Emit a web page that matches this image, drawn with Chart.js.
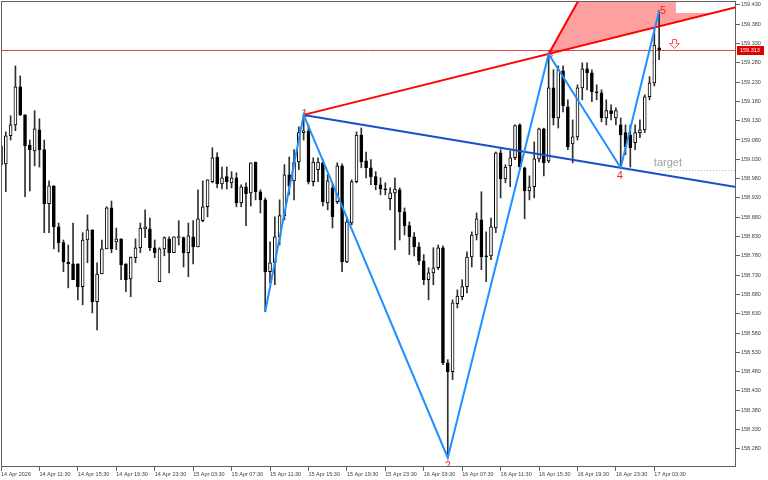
<!DOCTYPE html>
<html><head><meta charset="utf-8">
<script src="https://cdn.jsdelivr.net/npm/chart.js@4/dist/chart.umd.min.js"></script>
<style>html,body{margin:0;padding:0;background:#fff}#wrap{width:768px;height:480px}</style>
</head><body><div id="wrap"><canvas id="c" width="768" height="480"></canvas></div>
<script>
// ---- data ----
const timeLabels = ['14 Apr 2026','14 Apr 11:30','14 Apr 15:30','14 Apr 19:30','14 Apr 23:30','15 Apr 03:30','15 Apr 07:30','15 Apr 11:30','15 Apr 15:30','15 Apr 19:30','15 Apr 23:30','16 Apr 03:30','16 Apr 07:30','16 Apr 11:30','16 Apr 15:30','16 Apr 19:30','16 Apr 23:30','17 Apr 03:30'];
const barsPerLabel = 8;
const slotCount = 154;
const opens = [159.065,159.018,159.091,159.119,159.218,159.145,159.067,159.052,159.106,159.055,
158.915,158.961,158.855,158.814,158.764,158.759,158.759,158.700,158.821,158.847,
158.661,158.733,158.798,158.904,158.816,158.824,158.759,158.720,158.775,158.801,
158.850,158.850,158.801,158.713,158.798,158.824,158.788,158.827,158.827,158.788,
158.829,158.803,158.871,158.907,158.972,159.036,158.966,158.985,158.969,158.982,
158.917,158.959,158.943,159.023,158.946,158.925,158.739,158.762,158.829,158.884,
158.990,158.974,159.023,159.099,159.104,158.972,159.003,159.021,158.917,158.956,
158.920,159.013,158.764,158.865,158.972,159.093,159.026,159.008,158.985,158.964,
158.953,158.928,158.943,158.951,158.894,158.858,158.829,158.803,158.767,158.718,
158.736,158.749,158.801,158.503,158.480,158.656,158.674,158.700,158.777,158.834,
158.873,158.780,158.780,158.852,159.047,158.979,159.013,159.034,159.119,159.008,
158.948,158.959,159.031,159.109,159.026,159.215,159.137,159.259,159.166,159.070,
159.088,159.215,159.264,159.254,159.205,159.202,159.137,159.156,159.137,159.119,
159.099,159.093,159.073,159.099,159.106,159.192,159.228,159.319];
const highs = [159.080,159.101,159.143,159.272,159.246,159.145,159.080,159.156,159.135,159.080,
158.974,158.961,158.865,158.821,158.808,158.865,158.759,158.840,158.886,158.847,
158.762,158.821,158.907,158.922,158.852,158.824,158.759,158.777,158.824,158.865,
158.899,158.878,158.821,158.801,158.829,158.829,158.829,158.871,158.829,158.865,
158.871,158.951,158.974,158.977,159.060,159.047,159.010,159.010,158.998,158.995,
158.964,158.969,159.021,159.023,158.951,158.930,158.816,158.881,158.925,159.016,
159.036,159.055,159.114,159.145,159.119,159.034,159.034,159.029,158.990,158.966,
159.021,159.018,158.878,158.977,159.101,159.111,159.049,159.029,158.998,158.982,
158.969,158.956,158.982,158.956,158.904,158.868,158.840,158.814,158.783,158.749,
158.801,158.808,158.806,158.511,158.666,158.692,158.718,158.790,158.842,158.891,
158.946,158.842,158.878,159.049,159.055,159.016,159.052,159.119,159.122,159.010,
158.987,159.075,159.111,159.111,159.303,159.262,159.272,159.272,159.184,159.132,
159.223,159.280,159.280,159.262,159.223,159.210,159.184,159.171,159.163,159.137,
159.119,159.119,159.119,159.132,159.197,159.244,159.370,159.415];
const lows = [159.008,158.946,159.080,159.104,159.143,158.933,158.948,159.013,159.010,158.840,
158.840,158.798,158.790,158.739,158.697,158.718,158.666,158.653,158.762,158.632,
158.588,158.733,158.798,158.788,158.796,158.718,158.687,158.674,158.762,158.788,
158.827,158.793,158.775,158.713,158.780,158.736,158.788,158.808,158.751,158.726,
158.759,158.803,158.868,158.881,158.969,158.956,158.953,158.953,158.956,158.907,
158.907,158.858,158.909,158.925,158.891,158.635,158.710,158.705,158.808,158.873,
158.938,158.925,159.003,159.080,158.966,158.961,158.972,158.909,158.899,158.852,
158.915,158.739,158.762,158.860,158.969,159.008,158.982,158.964,158.951,158.938,
158.938,158.899,158.796,158.821,158.834,158.783,158.780,158.757,158.705,158.666,
158.705,158.744,158.498,158.257,158.459,158.645,158.666,158.684,158.751,158.821,
158.744,158.713,158.770,158.840,158.930,158.969,158.959,159.029,159.003,158.876,
158.925,158.930,159.023,158.987,159.021,159.119,159.111,159.153,159.055,159.021,
159.080,159.184,159.210,159.179,159.184,159.127,159.119,159.132,159.119,159.008,
159.042,159.010,159.055,159.086,159.099,159.184,159.220,159.288];
const closes = [159.016,159.091,159.119,159.218,159.145,159.065,159.055,159.109,159.055,158.915,
158.961,158.855,158.814,158.764,158.759,158.718,158.700,158.821,158.847,158.661,
158.733,158.798,158.904,158.798,158.824,158.757,158.718,158.777,158.801,158.852,
158.855,158.801,158.788,158.798,158.827,158.788,158.829,158.829,158.788,158.832,
158.803,158.876,158.907,158.977,159.034,158.966,158.982,158.972,158.982,158.917,
158.959,158.941,159.021,158.946,158.925,158.739,158.762,158.829,158.884,158.990,
158.961,159.023,159.099,159.104,158.972,159.023,159.023,158.920,158.974,158.881,
159.013,158.764,158.868,158.972,159.093,159.023,159.008,158.985,158.964,158.953,
158.951,158.943,158.953,158.894,158.858,158.829,158.803,158.767,158.718,158.736,
158.749,158.801,158.503,158.480,158.658,158.676,158.700,158.777,158.834,158.876,
158.777,158.777,158.855,159.047,158.979,159.010,159.034,159.117,159.010,158.948,
158.959,159.031,159.109,159.021,159.215,159.137,159.262,159.168,159.062,159.088,
159.215,159.264,159.254,159.205,159.202,159.137,159.156,159.148,159.156,159.093,
159.062,159.060,159.099,159.106,159.192,159.228,159.326,159.313];
const yTickValues = [158.280,158.330,158.380,158.430,158.480,158.530,158.580,158.630,158.680,158.730,158.780,158.830,158.880,158.930,158.980,159.030,159.080,159.130,159.180,159.230,159.280,159.330,159.380,159.430];
const yMin = 158.233, yMax = 159.440;
const lastPrice = 159.313;
const waveIdx = [55,63,93,114,129,137];
const wavePrice = [158.635,159.145,158.257,159.303,159.008,159.415];
const waveNames = ['','1','2','3','4','5'];
const upperLineIdx = [63,153], upperLinePrice = [159.145,159.424];
const lowerLineIdx = [63,153], lowerLinePrice = [159.145,158.958];
const steepLineIdx = [114,121], steepLinePrice = [159.303,159.459];
const zoneIdx = [114,121,153,153], zonePrice = [159.303,159.459,159.459,159.424];
const boxIdx = [140.5,153], boxPrice = [159.409,159.445];
const targetIdx = [137,153], targetPrice = 159.003, targetText = 'target', targetTextIdx = 135.9;
const arrowIdx = 140.1, arrowPrice = 159.332;

// ---- build ----
const categories = Array.from({length: slotCount}, (_, i) => i);
const bodies = opens.map((o, i) => [o, closes[i]]);
const wicks = lows.map((l, i) => [l, highs[i]]);
const bodyColors = opens.map((o, i) => closes[i] > o ? '#ffffff' : '#000000');
function sparse(idx, vals) {
  const arr = new Array(slotCount).fill(null);
  idx.forEach((ix, k) => { arr[ix] = vals[k]; });
  return arr;
}
const FONT = "'Liberation Sans', Arial, sans-serif";
Chart.defaults.font.family = FONT;

const P = (chart, ix, pr) => [chart.scales.x.getPixelForValue(ix), chart.scales.y.getPixelForValue(pr)];
const labelOffsets = [[0,0],[1,-1],[0,8],[1.5,1],[-1,8],[4,0]];

const overlay = {
  id: 'overlay',
  beforeDatasetsDraw(chart) {
    const {ctx, chartArea: a} = chart;
    ctx.save();
    ctx.beginPath(); ctx.rect(a.left, a.top, a.right - a.left, a.bottom - a.top); ctx.clip();
    ctx.beginPath();
    zoneIdx.forEach((ix, k) => { const [px, py] = P(chart, ix, zonePrice[k]); k ? ctx.lineTo(px, py) : ctx.moveTo(px, py); });
    ctx.closePath(); ctx.fillStyle = '#ffa0a0'; ctx.fill();
    const [bx0, by0] = P(chart, boxIdx[0], boxPrice[1]);
    const [bx1, by1] = P(chart, boxIdx[1], boxPrice[0]);
    ctx.fillStyle = '#ffffff'; ctx.fillRect(bx0, by0, bx1 - bx0, by1 - by0);
    const yl = Math.round(chart.scales.y.getPixelForValue(lastPrice)) + 0.5;
    ctx.strokeStyle = '#e04848'; ctx.lineWidth = 1;
    ctx.beginPath(); ctx.moveTo(a.left, yl); ctx.lineTo(a.right, yl); ctx.stroke();
    const [tx0, ty] = P(chart, targetIdx[0], targetPrice);
    const [tx1] = P(chart, targetIdx[1], targetPrice);
    ctx.strokeStyle = '#b0b0b0'; ctx.setLineDash([1, 2]);
    ctx.beginPath(); ctx.moveTo(tx0, Math.round(ty) + 0.5); ctx.lineTo(tx1, Math.round(ty) + 0.5); ctx.stroke();
    ctx.setLineDash([]);
    // wave numbers (drawn beneath the pattern lines)
    ctx.font = '11px ' + FONT; ctx.fillStyle = '#ff2020'; ctx.textAlign = 'center'; ctx.textBaseline = 'middle';
    waveIdx.forEach((ix, k) => {
      if (!waveNames[k]) return;
      const [px, py] = P(chart, ix, wavePrice[k]);
      ctx.fillText(waveNames[k], px + labelOffsets[k][0], py + labelOffsets[k][1]);
    });
    ctx.restore();
  },
  afterDatasetsDraw(chart) {
    const {ctx, chartArea: a} = chart;
    ctx.save();
    ctx.beginPath(); ctx.rect(a.left, a.top, a.right - a.left, a.bottom - a.top); ctx.clip();
    const [ttx, tty] = P(chart, targetTextIdx, targetPrice);
    ctx.font = '11px ' + FONT; ctx.fillStyle = '#a0a0a0'; ctx.textAlign = 'left'; ctx.textBaseline = 'middle';
    ctx.fillText(targetText, ttx, tty - 7);
    const [ax, ay0] = P(chart, arrowIdx, arrowPrice);
    const cx = Math.round(ax) + 0.5, top = Math.round(ay0) - 4 + 0.5;
    ctx.strokeStyle = '#ff5a5a'; ctx.lineWidth = 1;
    ctx.beginPath();
    ctx.moveTo(cx - 2, top); ctx.lineTo(cx + 2, top); ctx.lineTo(cx + 2, top + 4);
    ctx.lineTo(cx + 5, top + 4); ctx.lineTo(cx, top + 9); ctx.lineTo(cx - 5, top + 4);
    ctx.lineTo(cx - 2, top + 4); ctx.closePath(); ctx.stroke();
    ctx.restore();
  },
  afterDraw(chart) {
    const {ctx, chartArea: a} = chart;
    ctx.save();
    ctx.strokeStyle = '#606060'; ctx.lineWidth = 1;
    ctx.strokeRect(Math.floor(a.left) + 0.5, Math.floor(a.top) + 0.5, Math.round(a.right - a.left) - 1, Math.round(a.bottom - a.top) - 1);
    const yl = Math.round(chart.scales.y.getPixelForValue(lastPrice));
    ctx.fillStyle = '#e00000';
    ctx.fillRect(Math.round(a.right) + 1, yl - 4, 27, 9);
    ctx.fillStyle = '#ffffff'; ctx.font = '5.5px ' + FONT; ctx.textAlign = 'left'; ctx.textBaseline = 'middle';
    ctx.fillText(lastPrice.toFixed(3), Math.round(a.right) + 4, yl + 0.5);
    ctx.restore();
  }
};

new Chart(document.getElementById('c'), {
  type: 'bar',
  data: {
    labels: categories,
    datasets: [
      { type: 'line', data: sparse(waveIdx, wavePrice), borderColor: '#1e90ff', borderWidth: 2, pointRadius: 0, spanGaps: true, tension: 0, fill: false, order: 1, clip: 0 },
      { type: 'line', data: sparse(upperLineIdx, upperLinePrice), borderColor: '#ff0000', borderWidth: 2, pointRadius: 0, spanGaps: true, tension: 0, fill: false, order: 2, clip: 0 },
      { type: 'line', data: sparse(steepLineIdx, steepLinePrice), borderColor: '#ff0000', borderWidth: 2, pointRadius: 0, spanGaps: true, tension: 0, fill: false, order: 2, clip: 0 },
      { type: 'line', data: sparse(lowerLineIdx, lowerLinePrice), borderColor: '#1450c8', borderWidth: 2, pointRadius: 0, spanGaps: true, tension: 0, fill: false, order: 3, clip: 0 },
      { data: bodies, backgroundColor: bodyColors, borderColor: '#000000', borderWidth: 1, borderSkipped: false, barThickness: 3, minBarLength: 1, grouped: false, order: 4 },
      { data: wicks, backgroundColor: '#303030', borderWidth: 0, barThickness: 1, grouped: false, order: 5 }
    ]
  },
  options: {
    responsive: false,
    animation: false,
    devicePixelRatio: 1,
    events: [],
    layout: { padding: { left: 1, top: 1, right: 0, bottom: 0 } },
    plugins: { legend: { display: false }, tooltip: { enabled: false } },
    scales: {
      x: {
        type: 'category', offset: false,
        grid: { offset: false, drawOnChartArea: false, drawTicks: true, tickLength: 4, color: '#606060' },
        border: { display: false },
        afterBuildTicks: s => { s.ticks = s.ticks.filter(t => t.value % barsPerLabel === 0 && t.value / barsPerLabel < timeLabels.length); },
        afterFit: s => { s.height = 13; s.paddingLeft = 0; s.paddingRight = 0; },
        ticks: { autoSkip: false, maxRotation: 0, minRotation: 0, align: 'start', padding: 0, color: '#404040', font: { size: 5.5 },
          callback: v => timeLabels[v / barsPerLabel] }
      },
      y: {
        type: 'linear', position: 'right', min: yMin, max: yMax,
        grid: { drawOnChartArea: false, drawTicks: true, tickLength: 4, color: '#606060' },
        border: { display: false },
        afterBuildTicks: s => { s.ticks = yTickValues.map(v => ({ value: v })); },
        afterFit: s => { s.width = 32; s.paddingTop = 0; s.paddingBottom = 0; },
        ticks: { padding: 1, color: '#404040', font: { size: 5.5 }, callback: v => Number(v).toFixed(3) }
      }
    }
  },
  plugins: [overlay]
});
</script>
</body></html>
